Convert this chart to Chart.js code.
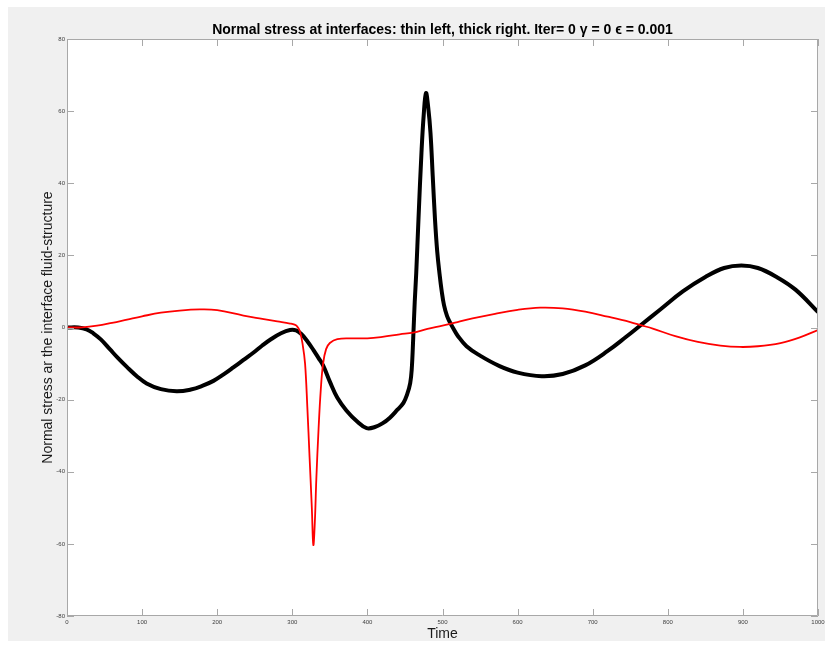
<!DOCTYPE html>
<html>
<head>
<meta charset="utf-8">
<script src="https://cdn.jsdelivr.net/npm/chart.js@4/dist/chart.umd.min.js"></script>
<style>
  html, body { margin: 0; padding: 0; background: #ffffff; }
  #wrap { position: absolute; left: 0; top: 0; width: 830px; height: 646px; }
</style>
</head>
<body>
<div id="wrap"><canvas id="c" width="830" height="646"></canvas></div>
<script>
// ---- data ----
const titleText = "Normal stress at interfaces: thin left, thick right. Iter= 0 \u03B3 = 0 \u03F5 = 0.001";
const xLabel = "Time";
const yLabel = "Normal stress ar the interface fluid-structure";
const xTicks = [0, 100, 200, 300, 400, 500, 600, 700, 800, 900, 1000];
const yTicks = [-80, -60, -40, -20, 0, 20, 40, 60, 80];

// thin interface (red)
const thinTime = [0, 20, 40, 60, 80, 100, 125, 150, 177, 200, 235, 260, 280, 297, 303, 306, 310, 314, 317, 320, 323, 326, 328, 330, 332, 335, 338, 341, 345, 350, 360, 380, 400, 420, 443, 461, 480, 500, 520, 540, 570, 600, 630, 660, 690, 720, 750, 765, 780, 810, 840, 870, 896, 920, 950, 975, 1000];
const thinStress = [0, 0.05, 0.5, 1.3, 2.2, 3.1, 4.1, 4.7, 5.0, 4.8, 3.3, 2.4, 1.7, 1.1, 0.8, 0.4, -1, -5, -10, -22, -36, -50, -60.3, -54, -42, -28, -17, -10, -6, -4.3, -3.2, -3.0, -3.0, -2.6, -1.9, -1.4, -0.4, 0.5, 1.5, 2.5, 3.8, 4.9, 5.5, 5.3, 4.4, 3.0, 1.5, 0.6, -0.3, -2.4, -4.0, -5.0, -5.4, -5.2, -4.3, -2.8, -0.7];

// thick interface (black)
const thickTime = [0, 15, 26, 35, 45, 57, 68, 80, 93, 106, 125, 146, 165, 180, 195, 210, 222, 235, 248, 260, 272, 285, 297, 305, 312, 320, 328, 335, 341, 350, 360, 372, 386, 399, 410, 420, 430, 440, 448, 453, 457, 459, 461, 463, 465, 468, 472, 475, 478, 481, 484, 487, 490, 493, 496, 499, 502, 506, 510, 515, 520, 532, 550, 576, 600, 632, 660, 690, 720, 745, 763, 790, 820, 850, 875, 898, 920, 945, 970, 1000];
const thickStress = [0, 0, -0.5, -1.6, -3.3, -6, -8.5, -11, -13.5, -15.5, -17.1, -17.7, -17.2, -16.2, -14.8, -12.8, -11, -9, -7, -5, -3.2, -1.6, -0.7, -0.8, -1.8, -3.8, -6.2, -8.5, -10.5, -15, -19.5, -23, -26, -27.9, -27.6, -26.6, -25, -22.8, -20.9, -18.5, -15.4, -11.7, -3, 7, 15, 30, 48.5, 59, 65, 61, 54, 42, 30, 21, 15, 10, 6.2, 3.2, 1.4, -0.5, -2.2, -5.2, -7.8, -10.7, -12.5, -13.5, -12.9, -10.5, -6.5, -2.5, 0.5, 5, 10, 14, 16.5, 17.2, 16.5, 14, 10.5, 4.3];

const toPoints = (xs, ys) => xs.map((x, i) => ({x: x, y: ys[i]}));

const AXIS_COLOR = '#a8a8a8';

const frame = {
  id: 'frame',
  beforeDraw(chart) {
    const ctx = chart.ctx;
    const a = chart.chartArea;
    ctx.save();
    ctx.fillStyle = '#f0f0f0';
    ctx.fillRect(8, 7, 817, 634);
    ctx.fillStyle = '#ffffff';
    ctx.fillRect(a.left, a.top, a.right - a.left, a.bottom - a.top);
    ctx.restore();
  },
  afterDatasetsDraw(chart) {
    const ctx = chart.ctx;
    const a = chart.chartArea;
    const xs = chart.scales.x, ys = chart.scales.y;
    ctx.save();
    ctx.strokeStyle = AXIS_COLOR;
    ctx.lineWidth = 1;
    ctx.beginPath();
    ctx.rect(a.left + 0.5, a.top + 0.5, a.right - a.left - 1, a.bottom - a.top - 1);
    const tl = 7;
    xTicks.forEach(v => {
      const px = Math.round(xs.getPixelForValue(v)) + 0.5;
      ctx.moveTo(px, a.bottom); ctx.lineTo(px, a.bottom - tl);
      ctx.moveTo(px, a.top); ctx.lineTo(px, a.top + tl);
    });
    yTicks.forEach(v => {
      const py = Math.round(ys.getPixelForValue(v)) + 0.5;
      ctx.moveTo(a.left, py); ctx.lineTo(a.left + tl, py);
      ctx.moveTo(a.right, py); ctx.lineTo(a.right - tl, py);
    });
    ctx.stroke();
    ctx.restore();
  }
};

new Chart(document.getElementById('c'), {
  type: 'line',
  data: {
    datasets: [
      {
        label: 'thin',
        data: toPoints(thinTime, thinStress),
        borderColor: '#ff0000',
        borderWidth: 1.8,
        pointRadius: 0,
        tension: 0.4,
        fill: false
      },
      {
        label: 'thick',
        data: toPoints(thickTime, thickStress),
        borderColor: '#000000',
        borderWidth: 4,
        pointRadius: 0,
        tension: 0.4,
        fill: false
      }
    ]
  },
  options: {
    responsive: false,
    animation: false,
    layout: { padding: { left: 0, right: 12, top: 0, bottom: 0 } },
    plugins: {
      legend: { display: false },
      tooltip: { enabled: false },
      title: {
        display: true,
        text: titleText,
        fullSize: false,
        color: '#000000',
        font: { family: 'Liberation Sans, Arial, sans-serif', size: 14, weight: 'bold', lineHeight: 1.2 },
        padding: { top: 21.6, bottom: 0.6 }
      }
    },
    scales: {
      x: {
        type: 'linear',
        min: 0, max: 1000,
        afterBuildTicks: s => { s.ticks = xTicks.map(v => ({value: v})); },
        afterFit: s => { s.height = 30; },
        grid: { display: false, drawTicks: false },
        border: { display: false },
        ticks: {
          color: '#404040',
          padding: 3,
          maxRotation: 0,
          autoSkip: false,
          callback: v => String(v),
          font: { family: 'Liberation Sans, Arial, sans-serif', size: 6 }
        },
        title: {
          display: true,
          text: xLabel,
          color: '#1a1a1a',
          font: { family: 'Liberation Sans, Arial, sans-serif', size: 14, lineHeight: 1.2 },
          padding: { top: 0, bottom: 3.6 }
        }
      },
      y: {
        type: 'linear',
        min: -80, max: 80,
        afterBuildTicks: s => { s.ticks = yTicks.map(v => ({value: v})); },
        afterFit: s => { s.width = 67; },
        grid: { display: false, drawTicks: false },
        border: { display: false },
        ticks: {
          color: '#404040',
          padding: 2,
          autoSkip: false,
          callback: v => String(v),
          font: { family: 'Liberation Sans, Arial, sans-serif', size: 6 }
        },
        title: {
          display: true,
          text: yLabel,
          color: '#1a1a1a',
          font: { family: 'Liberation Sans, Arial, sans-serif', size: 14, lineHeight: 1.2 },
          padding: { top: 40, bottom: 0 }
        }
      }
    }
  },
  plugins: [frame]
});
</script>
</body>
</html>
